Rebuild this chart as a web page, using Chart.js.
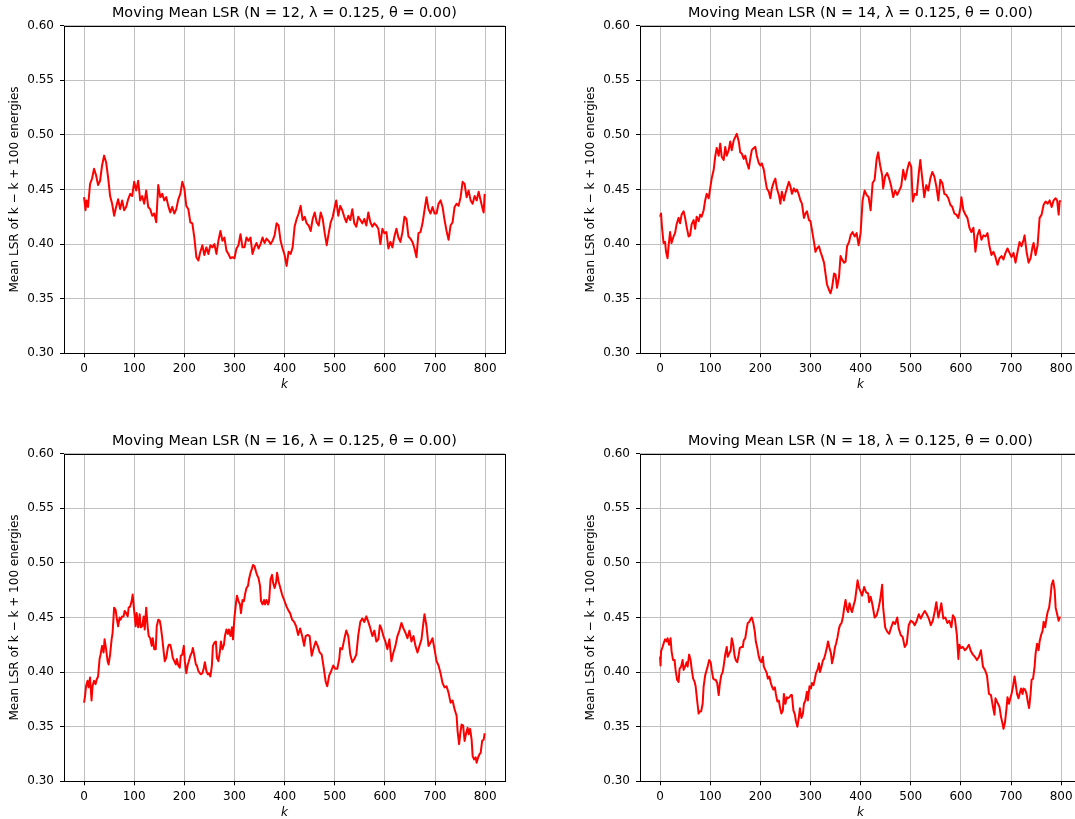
<!DOCTYPE html>
<html>
<head>
<meta charset="utf-8">
<script src="https://cdn.jsdelivr.net/npm/chart.js@4.4.0/dist/chart.umd.min.js"></script>
<style>
html, body { margin: 0; padding: 0; background: #fff; overflow: hidden; width: 1075px; height: 819px; }
.panel { position: absolute; width: 520px; height: 428px; }
</style>
</head>
<body>
<div class="panel" style="left:0;top:0"><canvas id="p12" width="520" height="428"></canvas></div>
<div class="panel" style="left:576px;top:0"><canvas id="p14" width="520" height="428"></canvas></div>
<div class="panel" style="left:0;top:428px"><canvas id="p16" width="520" height="428"></canvas></div>
<div class="panel" style="left:576px;top:428px"><canvas id="p18" width="520" height="428"></canvas></div>
<script>
// valeurs (k, LSR moyen)
const xTicks = [0, 100, 200, 300, 400, 500, 600, 700, 800];
const yTicks = [0.30, 0.35, 0.40, 0.45, 0.50, 0.55, 0.60];

const kN12 = [0,3,5,8,12,16,20,24,28,32,36,40,44,48,52,56,60,64,68,72,76,80,84,88,92,96,100,104,108,112,116,120,124,128,132,136,140,144,148,152,156,160,164,168,172,176,180,184,188,192,196,200,204,208,212,216,220,224,228,232,236,240,244,248,252,256,260,264,268,272,276,280,284,288,292,296,300,304,308,312,316,320,324,328,332,336,340,344,348,352,356,360,364,368,372,376,380,384,388,392,396,400,404,408,412,416,420,424,428,432,436,440,444,448,452,456,460,464,468,472,476,480,484,488,492,496,500,503,507,511,515,519,523,527,531,535,539,543,547,551,555,559,563,567,571,575,579,583,587,591,595,599,603,607,611,615,619,623,627,631,635,639,643,647,651,655,659,663,667,671,675,679,683,687,691,695,699,703,707,711,715,719,723,727,731,735,739,743,747,751,755,759,763,767,771,775,779,783,787,791,795,797,799];
const lsrN12 = [.443,.431,.44,.434,.455,.46,.469,.463,.454,.458,.472,.481,.475,.461,.444,.437,.426,.434,.441,.432,.44,.431,.434,.441,.446,.444,.457,.449,.458,.44,.444,.437,.449,.434,.432,.426,.428,.42,.454,.443,.446,.44,.443,.435,.429,.434,.428,.432,.441,.446,.457,.451,.435,.432,.42,.419,.406,.388,.385,.393,.399,.39,.397,.391,.399,.397,.4,.391,.403,.412,.403,.406,.394,.391,.387,.388,.387,.396,.399,.409,.397,.397,.406,.403,.406,.391,.397,.401,.396,.40,.406,.401,.405,.403,.40,.403,.408,.419,.417,.403,.396,.39,.38,.393,.391,.397,.416,.423,.428,.435,.422,.425,.419,.417,.412,.423,.429,.42,.417,.429,.423,.41,.399,.41,.42,.425,.434,.44,.426,.435,.431,.425,.42,.426,.422,.432,.419,.416,.425,.422,.419,.423,.417,.429,.42,.416,.419,.417,.414,.40,.414,.41,.411,.396,.402,.397,.407,.414,.406,.402,.411,.425,.423,.407,.405,.402,.396,.388,.41,.411,.419,.431,.443,.432,.428,.434,.428,.428,.437,.44,.434,.422,.412,.404,.417,.42,.434,.437,.435,.443,.457,.455,.443,.449,.44,.437,.444,.44,.448,.44,.432,.429,.446];

const kN14 = [0,2,4,7,10,12,15,17,20,23,27,30,33,37,40,43,47,50,53,57,60,63,67,70,73,77,80,83,87,90,93,97,100,103,107,110,113,117,120,123,127,130,133,137,140,143,147,150,153,157,160,163,167,170,173,177,180,183,187,190,193,197,200,203,207,210,213,217,220,223,227,230,233,237,240,243,247,250,253,257,260,263,267,270,273,277,280,283,287,290,293,297,300,303,307,310,313,317,320,323,327,330,333,337,340,343,347,350,353,357,360,363,367,370,373,377,380,384,388,392,396,400,404,408,412,416,420,424,428,432,435,439,443,445,449,453,457,461,465,469,473,477,481,485,489,493,497,501,504,508,512,516,519,523,527,531,535,539,543,547,551,555,559,563,567,571,575,579,583,587,591,595,599,601,605,609,613,617,621,625,629,633,637,641,645,649,653,657,661,665,669,673,677,681,685,689,693,697,701,705,709,713,717,721,725,727,731,735,739,743,745,749,753,757,761,765,769,773,777,781,785,789,792,795,797,799];
const lsrN14 = [.425,.428,.415,.401,.402,.393,.387,.398,.411,.401,.407,.41,.418,.424,.419,.427,.43,.424,.416,.407,.408,.418,.422,.414,.425,.421,.427,.425,.431,.44,.446,.442,.451,.46,.468,.48,.488,.481,.492,.48,.477,.489,.481,.486,.494,.486,.495,.498,.501,.494,.484,.483,.478,.481,.475,.469,.478,.486,.488,.489,.481,.474,.472,.474,.468,.459,.451,.448,.442,.451,.457,.46,.451,.445,.437,.448,.44,.446,.451,.457,.453,.446,.451,.448,.45,.445,.44,.437,.424,.428,.43,.422,.421,.413,.402,.393,.396,.398,.393,.389,.383,.373,.363,.358,.355,.36,.373,.372,.36,.37,.389,.386,.383,.384,.398,.402,.408,.411,.407,.41,.399,.41,.44,.449,.445,.443,.431,.456,.459,.478,.484,.472,.463,.451,.462,.465,.46,.453,.443,.449,.445,.449,.453,.468,.459,.468,.475,.471,.439,.446,.445,.465,.477,.46,.443,.454,.449,.46,.466,.462,.453,.44,.459,.456,.446,.445,.442,.436,.434,.428,.427,.424,.433,.443,.431,.427,.424,.415,.411,.415,.393,.408,.413,.404,.408,.407,.41,.398,.39,.393,.388,.381,.387,.389,.386,.392,.396,.392,.388,.392,.383,.393,.402,.398,.404,.408,.393,.383,.387,.398,.401,.39,.399,.424,.427,.436,.439,.437,.44,.434,.44,.442,.44,.427,.439,.44];

const kN16 = [0,2,4,7,9,12,15,17,20,23,25,28,31,33,36,39,41,44,47,49,52,55,57,60,63,65,68,71,73,76,79,81,84,87,89,92,95,97,100,103,105,108,111,113,116,119,121,124,127,129,132,135,137,140,143,145,148,151,153,156,159,161,164,167,169,172,175,177,180,183,185,188,191,193,196,199,201,204,207,209,212,215,217,220,223,225,228,231,233,236,239,241,244,247,249,252,255,257,260,263,265,268,271,273,276,279,281,284,287,289,292,295,297,300,303,305,308,311,313,316,319,321,324,327,329,332,335,337,340,343,345,348,351,353,356,359,361,364,367,369,372,375,377,380,383,385,388,395,399,404,408,411,415,419,423,427,431,435,439,442,446,450,454,458,462,466,470,474,478,482,485,489,493,497,501,505,509,511,515,519,523,527,531,535,539,543,547,551,555,559,563,567,571,575,579,583,587,590,593,597,601,605,609,613,617,621,625,629,633,637,641,645,649,653,657,661,665,669,673,677,679,683,687,691,695,699,703,707,711,715,719,723,727,731,735,739,743,745,748,751,753,756,759,762,765,767,770,773,775,778,781,783,786,789,791,794,797,799];
const lsrN16 = [.372,.378,.387,.392,.386,.395,.374,.387,.392,.389,.393,.396,.412,.416,.424,.418,.43,.421,.41,.407,.416,.43,.436,.459,.457,.45,.442,.45,.448,.451,.451,.456,.454,.451,.459,.46,.465,.471,.456,.442,.454,.441,.453,.441,.442,.451,.439,.459,.441,.433,.431,.424,.431,.421,.421,.442,.448,.447,.442,.431,.418,.41,.413,.422,.425,.425,.419,.413,.41,.407,.412,.406,.404,.415,.416,.424,.41,.399,.407,.41,.415,.418,.422,.415,.407,.406,.401,.399,.398,.399,.404,.409,.401,.398,.399,.396,.406,.424,.427,.428,.413,.41,.419,.428,.421,.425,.433,.439,.435,.439,.433,.441,.43,.45,.463,.47,.465,.462,.454,.466,.465,.471,.477,.479,.485,.491,.495,.498,.497,.492,.489,.486,.479,.465,.462,.466,.462,.466,.462,.465,.485,.489,.482,.477,.482,.491,.483,.471,.466,.46,.456,.454,.448,.446,.442,.434,.44,.433,.424,.433,.434,.433,.415,.422,.428,.424,.418,.416,.404,.391,.387,.397,.401,.406,.403,.403,.412,.422,.421,.43,.438,.433,.416,.409,.412,.416,.434,.446,.449,.446,.451,.446,.44,.433,.438,.428,.43,.443,.44,.433,.428,.421,.43,.41,.418,.424,.433,.438,.445,.44,.436,.431,.438,.428,.433,.424,.418,.424,.43,.446,.453,.442,.424,.427,.431,.421,.41,.406,.399,.39,.386,.387,.381,.372,.374,.366,.36,.346,.334,.346,.352,.351,.337,.344,.349,.343,.348,.338,.323,.32,.322,.317,.322,.325,.326,.337,.338,.344];

const kN18 = [0,1,2,5,7,10,13,15,18,21,23,26,29,31,34,37,39,42,45,47,50,53,55,58,61,63,66,69,71,74,77,79,82,85,87,90,93,95,98,101,103,106,109,111,114,117,119,122,125,127,130,133,135,138,141,143,146,149,151,154,157,159,162,165,167,170,173,175,178,181,183,186,189,191,194,197,199,202,205,207,210,213,215,218,221,223,226,229,231,234,237,239,242,245,247,250,253,255,258,261,263,266,269,271,274,277,279,282,285,287,290,293,295,298,301,303,306,309,311,314,317,319,322,325,327,330,333,335,338,341,343,346,349,351,354,357,359,362,365,367,370,373,375,378,381,383,386,389,391,394,397,403,407,411,415,417,420,423,425,428,432,436,439,443,445,449,453,457,461,465,469,473,476,480,484,488,492,496,500,504,508,512,516,520,524,528,532,536,540,544,548,551,555,559,561,565,569,573,577,581,584,588,592,595,597,600,604,608,612,616,620,624,628,632,636,640,644,648,652,656,660,664,667,669,673,677,680,683,685,688,691,693,696,699,701,704,707,709,712,715,717,720,723,725,728,731,733,736,739,741,744,747,749,752,755,757,760,763,765,768,771,773,776,779,781,784,787,789,792,795,797,799];
const lsrN18 = [.414,.406,.419,.423,.426,.43,.428,.431,.425,.431,.419,.411,.411,.402,.393,.391,.403,.405,.411,.402,.405,.409,.405,.416,.411,.403,.394,.391,.387,.374,.362,.364,.364,.371,.387,.397,.402,.405,.411,.409,.402,.394,.393,.393,.39,.379,.388,.397,.40,.406,.416,.423,.414,.417,.42,.431,.425,.414,.411,.409,.416,.422,.423,.423,.429,.431,.44,.445,.446,.449,.45,.445,.437,.428,.422,.414,.411,.409,.414,.405,.402,.399,.394,.396,.39,.387,.384,.386,.38,.373,.374,.368,.362,.365,.38,.371,.377,.376,.377,.379,.379,.365,.361,.355,.35,.359,.367,.358,.362,.371,.374,.382,.374,.387,.385,.39,.388,.394,.399,.402,.408,.40,.405,.411,.412,.417,.423,.428,.422,.417,.408,.414,.423,.426,.432,.44,.443,.445,.451,.458,.466,.457,.455,.463,.457,.455,.461,.466,.473,.484,.477,.47,.478,.473,.472,.464,.469,.463,.458,.45,.452,.459,.466,.48,.459,.441,.437,.435,.441,.446,.444,.45,.44,.434,.432,.423,.426,.443,.447,.446,.443,.447,.453,.449,.453,.456,.453,.449,.443,.447,.456,.464,.45,.458,.463,.449,.45,.445,.447,.441,.452,.449,.434,.412,.425,.422,.423,.42,.422,.425,.419,.416,.414,.411,.414,.42,.405,.402,.397,.38,.379,.368,.361,.376,.372,.368,.359,.353,.348,.354,.367,.377,.371,.377,.38,.387,.396,.39,.38,.376,.38,.385,.38,.385,.384,.38,.374,.367,.38,.393,.394,.405,.417,.426,.42,.428,.434,.438,.446,.441,.45,.455,.459,.47,.48,.484,.475,.459,.453,.447,.45,.45];

const FONT = "'DejaVu Sans', sans-serif";

// cadre noir autour de la zone de tracé (4 côtés)
const spines = {
    id: 'spines',
    afterDraw(chart) {
        const a = chart.chartArea;
        const ctx = chart.ctx;
        ctx.save();
        ctx.strokeStyle = '#000';
        ctx.lineWidth = 1;
        const l = Math.round(a.left) + 0.5, t = Math.round(a.top) + 0.5;
        const r = Math.round(a.right) + 0.5, b = Math.round(a.bottom) + 0.5;
        ctx.strokeRect(l, t, r - l, b - t);
        ctx.restore();
    }
};

function drawPanel(id, n, ks, vals) {
    new Chart(document.getElementById(id), {
        type: 'line',
        data: {
            datasets: [{
                data: ks.map((k, i) => ({ x: k, y: vals[i] })),
                borderColor: '#ff0000',
                borderWidth: 2,
                borderJoinStyle: 'round',
                pointRadius: 0,
                tension: 0,
                fill: false
            }]
        },
        options: {
            responsive: false,
            animation: false,
            layout: { padding: { left: 0, right: 15.3, top: 0, bottom: 0 } },
            plugins: {
                legend: { display: false },
                tooltip: { enabled: false },
                title: {
                    display: true,
                    fullSize: false,
                    text: 'Moving Mean LSR (N = ' + n + ', λ = 0.125, θ = 0.00)',
                    color: '#000',
                    font: { family: FONT, size: 14.4, weight: 'normal' },
                    padding: { top: 4.4, bottom: 4 }
                }
            },
            scales: {
                x: {
                    type: 'linear',
                    min: -39.95,
                    max: 838.95,
                    afterBuildTicks: s => { s.ticks = xTicks.map(v => ({ value: v })); },
                    afterFit: s => { s.height = 74.7; },
                    ticks: { color: '#000', font: { family: FONT, size: 12 }, padding: 4, maxRotation: 0, callback: v => String(v) },
                    grid: { color: '#c0c0c0', lineWidth: 1, tickColor: '#000', tickLength: 4, tickWidth: 1 },
                    border: { display: false },
                    title: {
                        display: true, text: 'k', color: '#000',
                        font: { family: FONT, size: 12, style: 'italic' },
                        padding: { top: 0, bottom: 36.3 }
                    }
                },
                y: {
                    min: 0.3,
                    max: 0.6,
                    afterBuildTicks: s => { s.ticks = yTicks.map(v => ({ value: v })); },
                    afterFit: s => { s.width = 64; },
                    ticks: { color: '#000', font: { family: FONT, size: 12 }, padding: 6, callback: v => v.toFixed(2) },
                    grid: { color: '#c0c0c0', lineWidth: 1, tickColor: '#000', tickLength: 4, tickWidth: 1 },
                    border: { display: false },
                    title: {
                        display: true, text: 'Mean LSR of k − k + 100 energies', color: '#000',
                        font: { family: FONT, size: 12 },
                        padding: { top: 7.3, bottom: 0 }
                    }
                }
            }
        },
        plugins: [spines]
    });
}

drawPanel('p12', 12, kN12, lsrN12);
drawPanel('p14', 14, kN14, lsrN14);
drawPanel('p16', 16, kN16, lsrN16);
drawPanel('p18', 18, kN18, lsrN18);
</script>
</body>
</html>
